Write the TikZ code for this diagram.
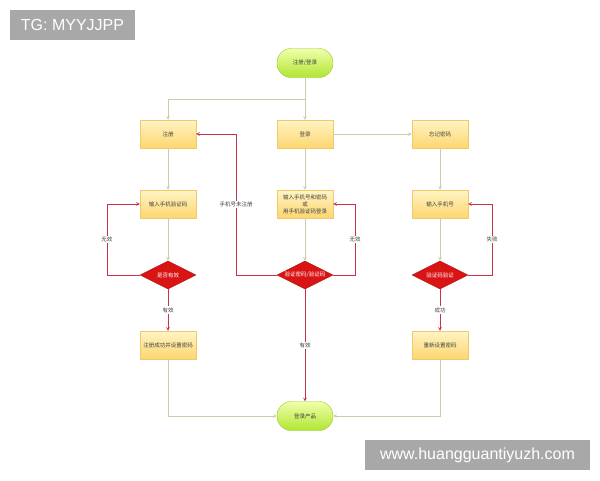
\documentclass[tikz,border=0pt]{standalone}
\usepackage{fontspec}
\setmainfont{Liberation Sans}
\newfontfamily\cjk{Noto Sans CJK SC}
\usetikzlibrary{shapes.geometric}

\definecolor{boxtop}{RGB}{255,244,196}
\definecolor{boxbot}{RGB}{252,214,112}
\definecolor{boxline}{RGB}{240,200,110}
\definecolor{termtop}{RGB}{240,255,170}
\definecolor{termbot}{RGB}{176,230,50}
\definecolor{termline}{RGB}{150,200,40}
\definecolor{checkred}{RGB}{218,20,20}
\definecolor{glinec}{RGB}{206,202,170}
\definecolor{rlinec}{RGB}{196,52,72}
\definecolor{wmgray}{RGB}{168,168,168}

\begin{document}
\begin{tikzpicture}[x=1pt,y=-1pt,>=stealth,
  font=\cjk\fontsize{5.5}{7}\selectfont,
  box/.style={draw=boxline,top color=boxtop,bottom color=boxbot,
    minimum width=56,minimum height=28,inner sep=1,align=center,text=black!75},
  term/.style={draw=termline,top color=termtop,bottom color=termbot,
    rounded corners=14,minimum width=56,minimum height=29,text=black!75},
  check/.style={diamond,draw=checkred!80!black,fill=checkred,text=white,
    aspect=2,minimum width=56,minimum height=28,inner sep=0},
  gline/.style={draw=glinec,line width=0.6,->},
  rline/.style={draw=rlinec,line width=0.6,->},
  lbl/.style={fill=white,inner sep=1,text=black!75},
  wmark/.style={fill=wmgray,text=white,font=\fontsize{16}{18}\selectfont,
    inner sep=0,minimum height=30}]
\useasboundingbox (0,0) rectangle (600,480);

% watermarks
\node[wmark,minimum width=125] (tg) at (72.5,25) {TG: MYYJJPP};
\node[wmark,minimum width=225] (web) at (477.5,455) {www.huangguantiyuzh.com};

% column 1
\node[term] (start) at (305,63) {注册/登录};
\node[box] (reg) at (168,134) {注册};
\node[box] (regcode) at (168,204) {输入手机验证码};
\node[check] (valid) at (168,275) {是否有效};
\node[box] (regdone) at (168,345) {注册成功并设置密码};

% column 2
\node[box] (login) at (305,134) {登录};
\node[box] (logininput) at (305,204) {输入手机号和密码\\或\\用手机验证码登录};
\node[check] (verify) at (305,275) {验证密码/验证码};
\node[term] (product) at (305,416) {登录产品};

% column 3
\node[box] (forget) at (440,134) {忘记密码};
\node[box] (phone) at (440,204) {输入手机号};
\node[check] (codecheck) at (440,275) {验证码验证};
\node[box] (reset) at (440,345) {重新设置密码};

\coordinate (split) at (305,99);
\coordinate (back) at (236,275);

\draw[gline] (start) -- (login);
\draw[gline] (split) -| (reg);
\draw[gline] (login) -- (forget);
\draw[gline] (reg) -- (regcode);
\draw[gline] (login) -- (logininput);
\draw[gline] (forget) -- (phone);
\draw[gline] (regcode) -- (valid);
\draw[gline] (logininput) -- (verify);
\draw[gline] (phone) -- (codecheck);
\draw[gline] (regdone) |- (product);
\draw[gline] (reset) |- (product);

\draw[rline] (valid) -- node[lbl] {有效} (regdone);
\draw[rline] (codecheck) -- node[lbl] {成功} (reset);
\draw[rline] (verify) -- node[lbl] {有效} (product);
\draw[rline] (valid.west) -- ++(-33,0) |- node[lbl,pos=0.25] {无效} (regcode.west);
\draw[rline] (verify.east) -- ++(22,0) |- node[lbl,pos=0.25] {无效} (logininput.east);
\draw[rline] (codecheck.east) -- ++(24,0) |- node[lbl,pos=0.25] {失败} (phone.east);
\draw[rline] (verify.west) -- (back) |- node[lbl,pos=0.25] {手机号未注册} (reg.east);

\end{tikzpicture}
\end{document}
